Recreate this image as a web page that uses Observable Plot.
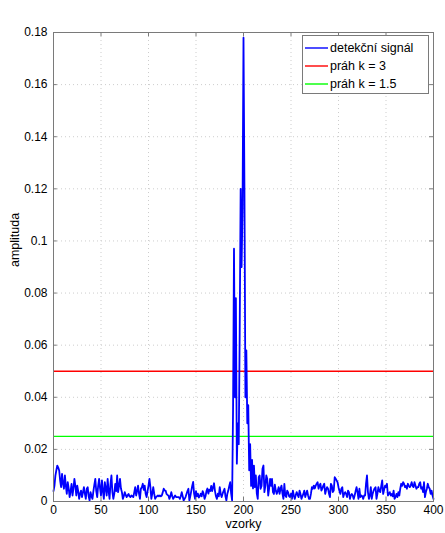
<!DOCTYPE html>
<html>
<head>
<meta charset="utf-8">
<script src="https://cdn.jsdelivr.net/npm/d3@7"></script>
<script src="https://cdn.jsdelivr.net/npm/@observablehq/plot@0.6"></script>
<style>
  html, body { margin: 0; padding: 0; background: #fff; }
  #chart { width: 445px; height: 533px; }
</style>
</head>
<body>
<div id="chart"></div>
<script>
// detection signal, one value per sample (0..400)
const detectionSignal = [
  0.004, 0.006, 0.0099, 0.012, 0.0138, 0.013, 0.0119, 0.008, 0.0055, 0.0106,
  0.007, 0.0049, 0.0100, 0.006, 0.0029, 0.0074, 0.005, 0.0017, 0.004, 0.0068,
  0.0023, 0.005, 0.0087, 0.006, 0.0023, 0.0061, 0.004, 0.0010, 0.003, 0.0042,
  0.0017, 0.0035, 0.0055, 0.003, 0.0010, 0.0049, 0.0055, 0.002, 0.0004, 0.0036,
  0.002, 0.0010, 0.004, 0.0065, 0.0087, 0.004, 0.0017, 0.006, 0.0087, 0.005,
  0.0023, 0.0081, 0.004, 0.0010, 0.0074, 0.005, 0.0023, 0.0087, 0.004, 0.0010,
  0.0068, 0.0100, 0.0036, 0.0010, 0.003, 0.0068, 0.004, 0.0100, 0.0036, 0.006,
  0.0087, 0.005, 0.0036, 0.0010, 0.002, 0.0036, 0.0025, 0.0017, 0.0024, 0.0029,
  0.002, 0.0017, 0.0023, 0.002, 0.0017, 0.0035, 0.0055, 0.0023, 0.004, 0.0061,
  0.003, 0.0010, 0.0049, 0.0055, 0.0068, 0.0045, 0.0061, 0.003, 0.0017, 0.004,
  0.0061, 0.0087, 0.0055, 0.0010, 0.003, 0.0055, 0.003, 0.0010, 0.0017, 0.0020,
  0.0023, 0.0020, 0.0023, 0.0020, 0.0023, 0.0035, 0.0049, 0.0042, 0.0042, 0.0029,
  0.0025, 0.0023, 0.0010, 0.002, 0.0036, 0.002, 0.0010, 0.0017, 0.0023, 0.0017,
  0.0017, 0.0017, 0.0017, 0.0010, 0.002, 0.0036, 0.002, 0.0004, 0.001, 0.0017,
  0.0029, 0.004, 0.0049, 0.0004, 0.002, 0.004, 0.006, 0.0075, 0.003, 0.001,
  0.004, 0.002, 0.003, 0.0015, 0.002, 0.003, 0.002, 0.004, 0.003, 0.001,
  0.002, 0.004, 0.005, 0.003, 0.0045, 0.004, 0.006, 0.004, 0.0055, 0.007,
  0.004, 0.002, 0.001, 0.003, 0.002, 0.0055, 0.003, 0.0017, 0.003, 0.004,
  0.0049, 0.002, 0.0004, 0.003, 0.0042, 0.006, 0.0074, 0.003, 0.0004, 0.035,
  0.097, 0.040, 0.078, 0.0145, 0.030, 0.022, 0.065, 0.120, 0.090, 0.113,
  0.178, 0.120, 0.040, 0.058, 0.030, 0.037, 0.012, 0.022, 0.006, 0.016,
  0.005, 0.0138, 0.0055, 0.0100, 0.003, 0.0010, 0.0093, 0.0100, 0.0049, 0.006,
  0.0126, 0.0138, 0.0036, 0.006, 0.0100, 0.0087, 0.0023, 0.005, 0.0087, 0.0060,
  0.0087, 0.0036, 0.0029, 0.0065, 0.0042, 0.0029, 0.004, 0.0055, 0.0029, 0.0050,
  0.0061, 0.003, 0.0010, 0.0068, 0.0023, 0.0017, 0.0042, 0.0035, 0.0020, 0.0017,
  0.0030, 0.0010, 0.0042, 0.0023, 0.0010, 0.0025, 0.0036, 0.0025, 0.0017, 0.0042,
  0.0029, 0.0010, 0.002, 0.0029, 0.0042, 0.0017, 0.003, 0.0042, 0.0023, 0.0010,
  0.0010, 0.003, 0.0055, 0.0049, 0.0061, 0.0050, 0.0061, 0.0068, 0.0074, 0.0049,
  0.0061, 0.0068, 0.0042, 0.0050, 0.0061, 0.0068, 0.0029, 0.0045, 0.0055, 0.0049,
  0.0030, 0.0017, 0.0068, 0.0061, 0.0036, 0.0042, 0.0093, 0.0087, 0.0081, 0.0074,
  0.0055, 0.0040, 0.0029, 0.0049, 0.0055, 0.0017, 0.0030, 0.0036, 0.0029, 0.0017,
  0.0042, 0.0036, 0.0010, 0.0023, 0.0029, 0.0023, 0.0010, 0.0023, 0.0040, 0.0055,
  0.0036, 0.0010, 0.0049, 0.0017, 0.0023, 0.0020, 0.0010, 0.0023, 0.0023, 0.0070,
  0.0100, 0.0036, 0.0010, 0.0023, 0.0055, 0.0010, 0.0030, 0.0042, 0.0050, 0.0055,
  0.0010, 0.0030, 0.0055, 0.0040, 0.0036, 0.0060, 0.0081, 0.0029, 0.0045, 0.0061,
  0.0055, 0.0068, 0.0023, 0.0030, 0.0036, 0.0023, 0.0029, 0.0020, 0.0042, 0.0010,
  0.0017, 0.0029, 0.0017, 0.0036, 0.0023, 0.0049, 0.0068, 0.0060, 0.0074, 0.0068,
  0.0055, 0.0060, 0.0049, 0.0068, 0.0061, 0.0055, 0.0061, 0.0074, 0.0060, 0.0055,
  0.0074, 0.0061, 0.0049, 0.0055, 0.0055, 0.0068, 0.0074, 0.0049, 0.0055, 0.0036,
  0.0074, 0.0017, 0.0036, 0.0049, 0.0068, 0.0055, 0.0049, 0.0029, 0.0042, 0.0023,
  0.0010
];

// threshold levels
const thresholdNames = ["práh k = 3", "práh k = 1.5"];
const thresholdValues = [0.05, 0.025];
const thresholdColors = ["#ff0000", "#00ff00"];

const signalName = "detekční signál";
const signalColor = "#0000ff";

// axis ticks
const xTicks = [0, 50, 100, 150, 200, 250, 300, 350, 400];
const yTicks = [0, 0.02, 0.04, 0.06, 0.08, 0.1, 0.12, 0.14, 0.16, 0.18];
const xLabel = "vzorky";
const yLabel = "amplituda";

const points = detectionSignal.map((v, i) => ({sample: i, value: v}));
const thresholds = thresholdValues.map((v, i) => ({value: v, color: thresholdColors[i], name: thresholdNames[i]}));

const axisColor = "#7a7a7a";
const gridColor = "#cdcdcd";
const fmtY = d => String(+d.toFixed(2));
const font = "'Liberation Sans', Arial, Helvetica, sans-serif";

const chart = Plot.plot({
  width: 445,
  height: 533,
  marginLeft: 53,
  marginRight: 12,
  marginTop: 32,
  marginBottom: 32,
  style: {fontFamily: font, fontSize: "12px", color: "#000", background: "#fff"},
  x: {domain: [0, 400]},
  y: {domain: [0, 0.18]},
  marks: [
    Plot.gridX({ticks: xTicks.slice(1, -1), stroke: gridColor, strokeOpacity: 1, strokeDasharray: "1,3"}),
    Plot.gridY({ticks: yTicks.slice(1, -1), stroke: gridColor, strokeOpacity: 1, strokeDasharray: "1,3"}),
    Plot.ruleY(thresholds, {y: "value", stroke: "color", strokeWidth: 1.4}),
    Plot.lineY(points, {x: "sample", y: "value", stroke: signalColor, strokeWidth: 1.8}),
    Plot.frame({stroke: axisColor}),
    // inward tick marks on all four sides
    Plot.ruleY(yTicks, {y: d => d, x1: 0, x2: 4, stroke: axisColor}),
    Plot.ruleY(yTicks, {y: d => d, x1: 396, x2: 400, stroke: axisColor}),
    Plot.ruleX(xTicks, {x: d => d, y1: 0, y2: 0.0016, stroke: axisColor}),
    Plot.ruleX(xTicks, {x: d => d, y1: 0.18, y2: 0.1784, stroke: axisColor}),
    Plot.axisX({ticks: xTicks, tickSize: 0, tickPadding: 4, label: null, fontSize: 12}),
    Plot.axisY({ticks: yTicks, tickSize: 0, tickPadding: 6, tickFormat: fmtY, label: null, fontSize: 12}),
    Plot.text([xLabel], {frameAnchor: "bottom", dy: 26, fontSize: 12.5, fill: "#000"}),
    Plot.text([yLabel], {frameAnchor: "left", dx: -39, rotate: -90, fontSize: 12.5, fill: "#000"})
  ]
});

document.getElementById("chart").appendChild(chart);

// legend box in the upper right corner of the axes
const svg = d3.select(chart);
const legendItems = [{name: signalName, color: signalColor}, ...thresholds];
const lg = svg.append("g").attr("transform", "translate(302,35)");
lg.append("rect")
  .attr("x", 0.5).attr("y", 0.5)
  .attr("width", 126).attr("height", 58)
  .attr("fill", "#fff").attr("stroke", axisColor);
legendItems.forEach((item, i) => {
  const yy = 13 + i * 18;
  lg.append("line")
    .attr("x1", 3).attr("x2", 26).attr("y1", yy).attr("y2", yy)
    .attr("stroke", item.color).attr("stroke-width", 1.4);
  lg.append("text")
    .attr("x", 28).attr("y", yy).attr("dy", "0.35em")
    .attr("text-anchor", "start")
    .attr("font-family", font)
    .attr("font-size", 12.5).attr("fill", "#000")
    .text(item.name);
});
</script>
</body>
</html>
